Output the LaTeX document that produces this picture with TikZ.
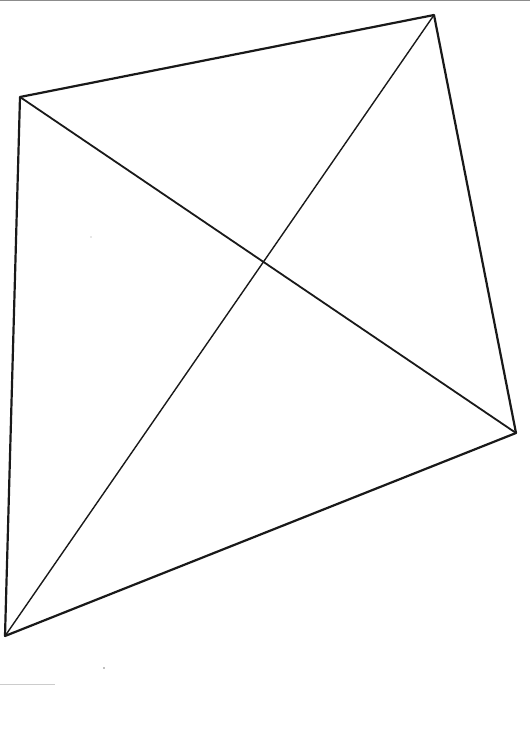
\documentclass[tikz,border=0pt]{standalone}
\begin{document}
\begin{tikzpicture}[x=1pt,y=-1pt,
  edge/.style={line width=2.2pt,line cap=round,line join=round,black!90},
  diag/.style={line width=1.8pt,line cap=round,black!90},
  thindiag/.style={line width=1.4pt,line cap=round,black!90}]
\useasboundingbox (0,0) rectangle (530,749);
\fill[white] (0,0) rectangle (530,749);
% scan artifacts
\draw[black!45,line width=1.2pt] (0,0.6) -- (530,0.6);
\draw[black!20,line width=1pt] (0,684) -- (55,684);
\fill[black!50] (104,668) circle (0.8);
\fill[black!40] (91,237) circle (0.6);
% corners
\coordinate (A) at (20,97);
\coordinate (B) at (434,15);
\coordinate (C) at (516,433);
\coordinate (D) at (5,636);
\draw[edge] (A) -- (B) -- (C) -- (D) -- cycle;
\draw[diag] (A) -- (C);
\draw[thindiag] (B) -- (D);
\end{tikzpicture}
\end{document}
